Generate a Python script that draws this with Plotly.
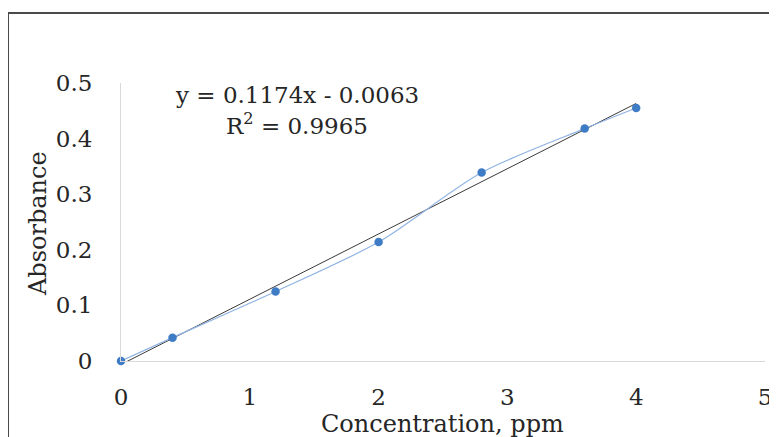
import plotly.graph_objects as go

conc = [0, 0.4, 1.2, 2.0, 2.8, 3.6, 4.0]
absorb = [0.0, 0.042, 0.125, 0.214, 0.339, 0.418, 0.455]
slope = 0.1174
intercept = -0.0063
x_ticks = [0, 1, 2, 3, 4, 5]
y_ticks = [0, 0.1, 0.2, 0.3, 0.4, 0.5]
y_tick_text = ["0", "0.1", "0.2", "0.3", "0.4", "0.5"]

FONT = "DejaVu Serif"
FS = 23
TXT = "#262626"
OFF = 8  # page body margin
W, H = 777, 437 - OFF
L, T = 121 - OFF, 83 - OFF
pw, ph = 644, 278
R = W - L - pw
B = H - T - ph

fig = go.Figure()
trend_x = [conc[0], conc[-1]]
trend_y = [slope * v + intercept for v in trend_x]
fig.add_trace(go.Scatter(x=trend_x, y=trend_y, mode="lines",
                         line=dict(color="#3a3a3a", width=1), hoverinfo="skip"))
fig.add_trace(go.Scatter(x=conc, y=absorb, mode="lines+markers",
                         line=dict(color="#8fb3e3", width=1.2, shape="spline", smoothing=0.8),
                         marker=dict(color="#3f7cc6", size=8.5),
                         cliponaxis=False))

def px_x(p):
    return (p - OFF - L) / pw

def px_y(p):
    return (H - B - (p - OFF)) / ph

fig.add_shape(type="rect", xref="paper", yref="paper",
              x0=px_x(8), x1=px_x(800), y0=px_y(13), y1=px_y(460),
              line=dict(color="#4a4a4a", width=2), fillcolor="rgba(0,0,0,0)", layer="below")

fig.add_annotation(xref="paper", yref="paper", x=px_x(297), y=px_y(95), yanchor="middle",
                   xanchor="center", text="y = 0.1174x - 0.0063", showarrow=False,
                   font=dict(family=FONT, size=FS, color=TXT))
fig.add_annotation(xref="paper", yref="paper", x=px_x(297), y=px_y(124), yanchor="middle",
                   xanchor="center", text="R<sup>2</sup> = 0.9965", showarrow=False,
                   font=dict(family=FONT, size=FS, color=TXT))
fig.add_annotation(xref="paper", yref="paper", x=px_x(442), y=px_y(424), yanchor="middle",
                   xanchor="center", text="Concentration, ppm", showarrow=False,
                   font=dict(family=FONT, size=FS + 1, color=TXT))
fig.add_annotation(xref="paper", yref="paper", x=px_x(38), y=px_y(224), yanchor="middle",
                   xanchor="center", text="Absorbance", showarrow=False, textangle=-90,
                   font=dict(family=FONT, size=FS + 1, color=TXT))

fig.update_layout(
    width=W, height=H, margin=dict(l=L, r=R, t=T, b=B, autoexpand=False),
    paper_bgcolor="white", plot_bgcolor="white", showlegend=False,
    font=dict(family=FONT, size=FS, color=TXT),
    xaxis=dict(range=[0, 5], tickvals=x_ticks, showgrid=False, zeroline=False,
               showline=True, linecolor="#d9d9d9", linewidth=1, ticks="",
               ticklabelstandoff=15, automargin=False),
    yaxis=dict(range=[0, 0.5], tickvals=y_ticks, ticktext=y_tick_text, showgrid=False,
               zeroline=False, showline=True, linecolor="#d9d9d9", linewidth=1, ticks="",
               ticklabelstandoff=23, automargin=False),
)
fig.write_html("out.html")
